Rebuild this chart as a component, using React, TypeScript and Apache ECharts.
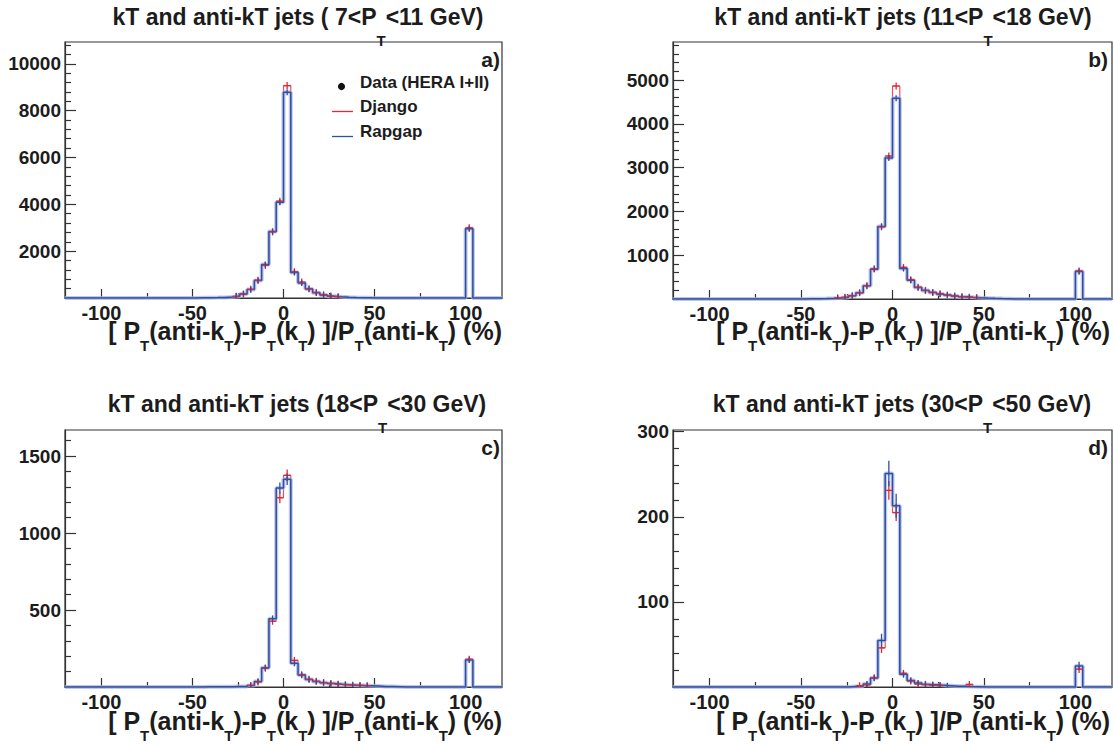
import React, { useEffect, useRef } from "react";
import * as echarts from "echarts";

// ---------- data ----------
const BIN_WIDTH = 4;
const X_MIN = -120;
const X_MAX = 120;
// lower edges of the populated central bins (width 4)
const coreEdges = [-48, -44, -40, -36, -32, -28, -24, -20, -16, -12, -8, -4, 0, 4, 8, 12, 16, 20, 24, 28, 32, 36, 40, 44, 48, 52, 56, 60];
const outlierEdge = 100;

const xMajorTicks = [-100, -50, 0, 50, 100];
const xMinorTicks = [-75, -25, 25, 75];

// panel a) 7<PT<11 GeV
const rapgapA = [8, 12, 18, 25, 40, 70, 170, 367, 750, 1433, 2840, 4093, 8784, 1092, 640, 384, 226, 130, 80, 50, 30, 18, 12, 8, 5, 3, 2, 1];
const djangoA = [8, 12, 18, 26, 42, 72, 172, 372, 762, 1392, 2822, 4132, 9068, 1122, 678, 398, 236, 136, 84, 52, 32, 19, 12, 8, 5, 3, 2, 1];
const rapgapOutA = 2960;
const djangoOutA = 3000;
const yTicksA = [2000, 4000, 6000, 8000, 10000];
const yMinorA = [400, 800, 1200, 1600, 2400, 2800, 3200, 3600, 4400, 4800, 5200, 5600, 6400, 6800, 7200, 7600, 8400, 8800, 9200, 9600, 10400, 10800];

// panel b) 11<PT<18 GeV
const rapgapB = [5, 7, 10, 15, 25, 40, 72, 140, 300, 680, 1655, 3221, 4591, 696, 429, 262, 193, 148, 117, 90, 70, 52, 40, 30, 22, 15, 10, 6];
const djangoB = [5, 7, 10, 15, 26, 42, 75, 145, 305, 692, 1650, 3267, 4868, 722, 441, 270, 197, 151, 119, 92, 71, 53, 41, 30, 22, 15, 10, 6];
const rapgapOutB = 630;
const djangoOutB = 642;
const yTicksB = [1000, 2000, 3000, 4000, 5000];
const yMinorB = [200, 400, 600, 800, 1200, 1400, 1600, 1800, 2200, 2400, 2600, 2800, 3200, 3400, 3600, 3800, 4200, 4400, 4600, 4800, 5200, 5400, 5600, 5800];

// panel c) 18<PT<30 GeV
const rapgapC = [0, 1, 1, 2, 2, 3, 4, 9, 35, 125, 444, 1292, 1349, 154, 78, 48, 36, 28, 22, 18, 14, 12, 10, 8, 6, 4, 3, 2];
const djangoC = [0, 1, 1, 2, 2, 3, 4, 10, 33, 122, 427, 1229, 1375, 173, 79, 50, 37, 29, 23, 18, 15, 12, 10, 8, 6, 4, 3, 2];
const rapgapErrC = [0, 0, 0, 0, 0, 0, 0, 0, 6, 11, 21, 36, 37, 12, 9, 7, 6, 5, 0, 0, 0, 0, 0, 0, 0, 0, 0, 0];
const djangoErrC = [0, 0, 0, 0, 0, 0, 0, 0, 6, 11, 21, 35, 37, 13, 9, 7, 6, 5, 0, 0, 0, 0, 0, 0, 0, 0, 0, 0];
const rapgapOutC = 175;
const djangoOutC = 180;
const rapgapOutErrC = 13;
const djangoOutErrC = 13;
const yTicksC = [500, 1000, 1500];
const yMinorC = [100, 200, 300, 400, 600, 700, 800, 900, 1100, 1200, 1300, 1400, 1600];

// panel d) 30<PT<50 GeV
const rapgapD = [0, 0, 0, 0, 0, 0, 0.5, 1, 3.5, 10.6, 54.5, 251, 213, 15, 7.5, 4.7, 3, 2.5, 2, 1.5, 1, 0.8, 0.5, 0.3, 0, 0, 0, 0];
const djangoD = [0, 0, 0, 0, 0, 0, 0, 1.5, 2.5, 11, 46, 231, 205, 16, 7, 3.5, 3, 2, 1.5, 1, 1, 0.5, 3, 0.5, 0, 0, 0, 0];
const rapgapErrD = [0, 0, 0, 0, 0, 0, 0, 0, 2, 3, 8, 15, 14, 4, 3, 2, 0, 0, 0, 0, 0, 0, 0, 0, 0, 0, 0, 0];
const djangoErrD = [0, 0, 0, 0, 0, 0, 0, 1, 2, 3, 6, 11, 10, 4, 3, 2, 2, 0, 0, 0, 0, 0, 2, 0, 0, 0, 0, 0];
const rapgapOutD = 24.7;
const djangoOutD = 21;
const rapgapOutErrD = 5;
const djangoOutErrD = 4.5;
const yTicksD = [100, 200, 300];
const yMinorD = [20, 40, 60, 80, 120, 140, 160, 180, 220, 240, 260, 280];

const titles = [
  "{m|kT and anti-kT jets ( 7<P}{s|T}{m|<11 GeV)}",
  "{m|kT and anti-kT jets (11<P}{s|T}{m|<18 GeV)}",
  "{m|kT and anti-kT jets (18<P}{s|T}{m|<30 GeV)}",
  "{m|kT and anti-kT jets (30<P}{s|T}{m|<50 GeV)}",
];
const panelLabels = ["a)", "b)", "c)", "d)"];
const xTitle = "{m|[ P}{s|T}{m|(anti-k}{s|T}{m|)-P}{s|T}{m|(k}{s|T}{m|) ]/P}{s|T}{m|(anti-k}{s|T}{m|) (%)}";
const legendNames = ["Data (HERA I+II)", "Django", "Rapgap"];

// ---------- style ----------
const FONT = '"Liberation Sans", Arial, Helvetica, sans-serif';
const RED = "#e8262e";
const BLUE = "#2f4fa6";
const BLUE_HALO = "#a3b5e2";
const INK = "#1c1c1c";

const panels = [
  { grid: { left: 65, top: 42, width: 437, height: 256 }, yMax: 10930, yTicks: yTicksA, yMinor: yMinorA,
    rap: rapgapA, dj: djangoA, rapOut: rapgapOutA, djOut: djangoOutA, rapErr: null, djErr: null, rapOutErr: 0, djOutErr: 0,
    titleX: 298, titleY: 18, xTitleRight: 502, xTitleY: 329, labelX: 500, labelY: 59 },
  { grid: { left: 673, top: 42, width: 439, height: 257 }, yMax: 5874, yTicks: yTicksB, yMinor: yMinorB,
    rap: rapgapB, dj: djangoB, rapOut: rapgapOutB, djOut: djangoOutB, rapErr: null, djErr: null, rapOutErr: 0, djOutErr: 0,
    titleX: 903, titleY: 18, xTitleRight: 1110, xTitleY: 329, labelX: 1108, labelY: 59 },
  { grid: { left: 65, top: 430, width: 437, height: 257 }, yMax: 1669, yTicks: yTicksC, yMinor: yMinorC,
    rap: rapgapC, dj: djangoC, rapOut: rapgapOutC, djOut: djangoOutC, rapErr: rapgapErrC, djErr: djangoErrC, rapOutErr: rapgapOutErrC, djOutErr: djangoOutErrC,
    titleX: 297, titleY: 405, xTitleRight: 502, xTitleY: 719, labelX: 500, labelY: 447 },
  { grid: { left: 673, top: 430, width: 439, height: 257 }, yMax: 302, yTicks: yTicksD, yMinor: yMinorD,
    rap: rapgapD, dj: djangoD, rapOut: rapgapOutD, djOut: djangoOutD, rapErr: rapgapErrD, djErr: djangoErrD, rapOutErr: rapgapOutErrD, djOutErr: djangoOutErrD,
    titleX: 902, titleY: 405, xTitleRight: 1110, xTitleY: 719, labelX: 1108, labelY: 447 },
];

function binValue(core: number[], out: number, lo: number): number {
  const i = coreEdges.indexOf(lo);
  if (i >= 0) return core[i];
  if (lo === outlierEdge) return out;
  return 0;
}

function stepPoints(core: number[], out: number): number[][] {
  const pts: number[][] = [];
  for (let lo = X_MIN; lo < X_MAX; lo += BIN_WIDTH) {
    const v = binValue(core, out, lo);
    pts.push([lo, v], [lo + BIN_WIDTH, v]);
  }
  return pts;
}

function markerPoints(core: number[], err: number[] | null, out: number, outErr: number, minV: number): number[][] {
  const pts: number[][] = [];
  coreEdges.forEach((lo, i) => {
    if (core[i] > minV) pts.push([lo + BIN_WIDTH / 2, core[i], err ? err[i] : 0]);
  });
  pts.push([outlierEdge + BIN_WIDTH / 2, out, outErr]);
  return pts;
}

function crossRender(color: string, horizontal: boolean, arm: number) {
  return (_params: any, api: any) => {
    const x = api.value(0);
    const v = api.value(1);
    const e = api.value(2);
    const p = api.coord([x, v]);
    const pt = api.coord([x, v + e]);
    const pb = api.coord([x, Math.max(v - e, 0)]);
    const top = Math.min(pt[1], p[1] - arm);
    const bot = Math.max(pb[1], p[1] + arm);
    const children: any[] = [
      { type: "line", shape: { x1: p[0], y1: top, x2: p[0], y2: bot }, style: { stroke: color, lineWidth: 1.3 } },
    ];
    if (horizontal) {
      children.push({ type: "line", shape: { x1: p[0] - 3.5, y1: p[1], x2: p[0] + 3.5, y2: p[1] }, style: { stroke: color, lineWidth: 1.3 } });
    }
    return { type: "group", children };
  };
}

// rich text with a lowered subscript: main tokens top-aligned, subscript pushed down by padding
function subText(text: string, x: number, yCenter: number, align: string, mainSize: number, mainLH: number, subSize: number, subDrop: number) {
  return {
    type: "text", x, y: yCenter - mainLH / 2,
    style: {
      text, align, verticalAlign: "top", fill: INK,
      rich: {
        m: { fontSize: mainSize, fontWeight: "bold", fontFamily: FONT, fill: INK, lineHeight: mainLH, verticalAlign: "top" },
        s: { fontSize: subSize, fontWeight: "bold", fontFamily: FONT, fill: INK, lineHeight: subSize, verticalAlign: "top",
             padding: [Math.max(0, mainLH / 2 + subDrop - subSize / 2), 0, 0, 0] },
      },
    },
  };
}

function buildOption() {
  const grid: any[] = [];
  const xAxis: any[] = [];
  const yAxis: any[] = [];
  const series: any[] = [];
  const graphic: any[] = [];

  const labelStyle = { fontFamily: FONT, fontWeight: "bold", color: INK };

  panels.forEach((p, i) => {
    grid.push({ ...p.grid, show: true, borderColor: "#333", borderWidth: 1.2, backgroundColor: "transparent" });
    xAxis.push({
      type: "value", gridIndex: i, min: X_MIN, max: X_MAX, position: "bottom",
      axisLine: { show: true, onZero: false, lineStyle: { color: "#333", width: 1.2 } },
      axisTick: { show: true, inside: true, length: 9, customValues: xMajorTicks, lineStyle: { color: "#333", width: 1.2 } },
      axisLabel: { show: true, customValues: xMajorTicks, fontSize: 20, lineHeight: 15, margin: 7, formatter: (v: number) => String(v), ...labelStyle },
      splitLine: { show: false },
    });
    xAxis.push({
      type: "value", gridIndex: i, min: X_MIN, max: X_MAX, position: "bottom",
      axisLine: { show: false, onZero: false },
      axisTick: { show: true, inside: true, length: 5, customValues: xMinorTicks, lineStyle: { color: "#333", width: 1.2 } },
      axisLabel: { show: false },
      splitLine: { show: false },
    });
    yAxis.push({
      type: "value", gridIndex: i, min: 0, max: p.yMax, position: "left",
      axisLine: { show: true, onZero: false, lineStyle: { color: "#333", width: 1.2 } },
      axisTick: { show: true, inside: true, length: 11, customValues: p.yTicks, lineStyle: { color: "#333", width: 1.2 } },
      axisLabel: { show: true, customValues: p.yTicks, fontSize: 19, margin: 4, formatter: (v: number) => String(v), ...labelStyle },
      splitLine: { show: false },
    });
    yAxis.push({
      type: "value", gridIndex: i, min: 0, max: p.yMax, position: "left",
      axisLine: { show: false, onZero: false },
      axisTick: { show: true, inside: true, length: 6, customValues: p.yMinor, lineStyle: { color: "#333", width: 1.2 } },
      axisLabel: { show: false },
      splitLine: { show: false },
    });

    const xi = 2 * i;
    const yi = 2 * i;
    const minV = p.yMax * 0.004;
    series.push({
      type: "line", xAxisIndex: xi, yAxisIndex: yi, data: stepPoints(p.dj, p.djOut), symbol: "none",
      lineStyle: { color: RED, width: 1.2, opacity: 0.8 }, z: 2, silent: true,
    });
    series.push({
      type: "line", xAxisIndex: xi, yAxisIndex: yi, data: stepPoints(p.rap, p.rapOut), symbol: "none",
      lineStyle: { color: BLUE_HALO, width: 4, opacity: 0.75 }, z: 3, silent: true,
    });
    series.push({
      type: "line", xAxisIndex: xi, yAxisIndex: yi, data: stepPoints(p.rap, p.rapOut), symbol: "none",
      lineStyle: { color: BLUE, width: 1.5 }, z: 4, silent: true,
    });
    series.push({
      type: "custom", xAxisIndex: xi, yAxisIndex: yi, clip: true, z: 5, silent: true,
      renderItem: crossRender(RED, true, 3.5),
      data: markerPoints(p.dj, p.djErr, p.djOut, p.djOutErr, minV),
    });
    series.push({
      type: "custom", xAxisIndex: xi, yAxisIndex: yi, clip: true, z: 6, silent: true,
      renderItem: crossRender(BLUE, false, 3),
      data: markerPoints(p.rap, p.rapErr, p.rapOut, p.rapOutErr, minV),
    });

    graphic.push(subText(titles[i], p.titleX, p.titleY, "center", 23, 25, 15, 22));
    graphic.push(subText(xTitle, p.xTitleRight, p.xTitleY, "right", 25, 21, 15, 16.5));
    graphic.push({
      type: "text", x: p.labelX, y: p.labelY,
      style: { text: panelLabels[i], align: "right", verticalAlign: "middle", fontSize: 21, fontWeight: "bold", fontFamily: FONT, fill: INK },
    });
  });

  // legend in panel a
  graphic.push({ type: "circle", shape: { cx: 341.5, cy: 86.5, r: 3.6 }, style: { fill: "#111" } });
  graphic.push({ type: "line", shape: { x1: 332, y1: 111.5, x2: 353, y2: 111.5 }, style: { stroke: RED, lineWidth: 1.3 } });
  graphic.push({ type: "line", shape: { x1: 332, y1: 136.5, x2: 353, y2: 136.5 }, style: { stroke: BLUE, lineWidth: 1.3 } });
  [82, 106, 131].forEach((y, k) => {
    graphic.push({
      type: "text", x: 360, y,
      style: { text: legendNames[k], align: "left", verticalAlign: "middle", fontSize: 17, fontWeight: "bold", fontFamily: FONT, fill: INK },
    });
  });

  return { animation: false, backgroundColor: "#ffffff", grid, xAxis, yAxis, series, graphic };
}

export default function App() {
  const ref = useRef<HTMLDivElement>(null);
  useEffect(() => {
    if (!ref.current) return;
    const chart = echarts.init(ref.current, undefined, { renderer: "svg" });
    chart.setOption(buildOption() as any);
    return () => chart.dispose();
  }, []);
  return <div ref={ref} style={{ position: "absolute", left: 0, top: 0, width: 1114, height: 745 }} />;
}
